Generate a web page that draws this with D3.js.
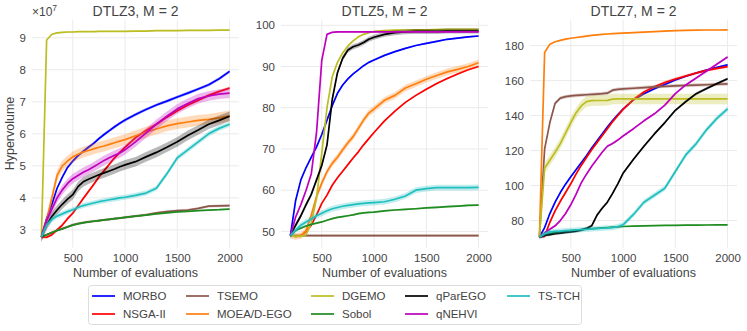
<!DOCTYPE html>
<html><head><meta charset="utf-8">
<script src="https://cdn.jsdelivr.net/npm/d3@7"></script>
<style>body{margin:0;background:#fff}svg{display:block}text{font-family:"Liberation Sans",Arial,sans-serif}</style>
</head><body><svg id="c" width="747" height="331"></svg>
<script>
const xs = [200,250,300,350,400,450,500,550,600,650,700,750,800,850,900,950,1000,1100,1200,1300,1400,1500,1600,1700,1800,1900,2000];
const seriesNames = ["MORBO","NSGA-II","TSEMO","MOEA/D-EGO","DGEMO","Sobol","qParEGO","qNEHVI","TS-TCH"];
const seriesColors = ["#0000ff","#ff0000","#8c564b","#ff7f0e","#bcbd22","#1f8c1f","#000000","#bf00bf","#1fbfbf"];
const xTicks = [500,1000,1500,2000];

// DTLZ3 (x 1e7)
const dtlz3_MORBO  = [2.78,3.35,3.8,4.3,4.65,4.95,5.15,5.32,5.45,5.58,5.7,5.85,5.98,6.1,6.22,6.33,6.43,6.6,6.76,6.9,7.02,7.15,7.27,7.4,7.53,7.72,7.95];
const dtlz3_NSGA   = [2.78,2.77,2.85,3.0,3.15,3.35,3.52,3.75,3.98,4.2,4.42,4.65,4.85,5.05,5.25,5.42,5.58,5.88,6.1,6.3,6.52,6.72,6.9,7.05,7.2,7.32,7.43];
const dtlz3_TSEMO  = [2.78,2.85,2.92,2.98,3.04,3.1,3.16,3.2,3.23,3.25,3.27,3.29,3.31,3.33,3.35,3.37,3.39,3.43,3.47,3.53,3.57,3.6,3.62,3.67,3.74,3.75,3.76];
const dtlz3_MOEAD  = [2.78,3.3,4.0,4.7,5.0,5.15,5.28,5.36,5.43,5.48,5.53,5.58,5.62,5.67,5.72,5.77,5.82,5.94,6.05,6.15,6.25,6.32,6.37,6.42,6.45,6.5,6.56];
const dtlz3_DGEMO  = [2.78,8.93,9.11,9.15,9.17,9.18,9.18,9.19,9.19,9.19,9.19,9.2,9.2,9.2,9.2,9.2,9.2,9.21,9.21,9.22,9.22,9.22,9.23,9.23,9.23,9.24,9.24];
const dtlz3_Sobol  = [2.78,2.85,2.92,2.98,3.03,3.09,3.15,3.19,3.22,3.25,3.27,3.29,3.31,3.33,3.35,3.37,3.39,3.43,3.46,3.5,3.53,3.56,3.58,3.6,3.62,3.63,3.65];
const dtlz3_qParEGO= [2.78,3.15,3.42,3.62,3.8,3.96,4.1,4.35,4.5,4.58,4.65,4.72,4.78,4.84,4.9,4.97,5.03,5.13,5.28,5.42,5.58,5.75,5.95,6.12,6.3,6.42,6.55];
const dtlz3_qNEHVI = [2.78,3.3,3.65,4.0,4.25,4.45,4.6,4.7,4.8,4.88,4.97,5.07,5.17,5.25,5.33,5.4,5.5,5.75,6.02,6.3,6.55,6.78,6.95,7.1,7.18,7.24,7.27];
const dtlz3_TSTCH  = [2.78,3.15,3.33,3.43,3.5,3.57,3.63,3.7,3.76,3.8,3.84,3.88,3.91,3.94,3.97,4.0,4.02,4.08,4.15,4.3,4.75,5.25,5.5,5.75,6.0,6.17,6.3];
const dtlz3_band   = [0.05,0.05,0.04,0.17,0.02,0.02,0.15,0.15,0.08];

// DTLZ5
const dtlz5_MORBO  = [49,57.5,62.5,65.5,68,70.5,73.5,77,80.5,83.5,85.5,87,88.2,89.2,90.2,91,91.6,92.7,93.6,94.4,95.1,95.6,96.1,96.6,96.9,97.2,97.4];
const dtlz5_NSGA   = [49,48.8,49,50,51.5,54,56.8,58.8,61.2,63,64.6,66.2,67.8,69.3,71,72.5,74,76.8,79.2,81.3,83,84.5,85.9,87.1,88.2,89.2,90.0];
const dtlz5_TSEMO  = [49,49,49,49,49,49,49,49,49,49,49,49,49,49,49,49,49,49,49,49,49,49,49,49,49,49,49];
const dtlz5_MOEAD  = [49,48.8,49,50.2,54,58.5,61.7,64.5,66.5,68,69.8,71.5,73,75,77,78.7,79.7,81.8,83,84.8,85.8,86.9,87.8,88.7,89.3,90.0,90.9];
const dtlz5_DGEMO  = [49,48.8,48.8,49.2,52,58,69,80,87.5,91,93.3,95,96.2,97.2,97.8,98.2,98.5,98.7,98.8,98.85,98.9,98.9,98.95,99,99,99,99];
const dtlz5_Sobol  = [49,50.2,50.8,51.3,51.7,52,52.3,52.7,53.1,53.4,53.6,53.8,54,54.3,54.5,54.6,54.7,55.0,55.2,55.35,55.5,55.7,55.85,56.0,56.15,56.3,56.4];
const dtlz5_qParEGO= [49,51.5,53.8,56.5,59,62.5,66,71,82,88.5,92,94,94.8,95.2,95.8,96.6,97.1,97.8,98.2,98.4,98.5,98.5,98.5,98.6,98.6,98.6,98.6];
const dtlz5_qNEHVI = [49,53.5,56.5,60,64,74,91.5,97.8,98.3,98.4,98.4,98.4,98.4,98.4,98.4,98.4,98.4,98.4,98.4,98.4,98.4,98.4,98.4,98.4,98.4,98.4,98.4];
const dtlz5_TSTCH  = [49,50.3,51.5,52.3,53,53.8,54.4,55,55.5,55.8,56.1,56.3,56.5,56.7,56.8,56.9,57.0,57.2,57.8,58.6,60.0,60.4,60.6,60.6,60.6,60.6,60.7];
const dtlz5_band   = [0.2,0.2,0.3,0.8,0.2,0.2,0.6,0.2,0.7];

// DTLZ7
const dtlz7_MORBO  = [70.5,76,84,90.5,96,100.8,105,109,113,117,121.5,125.5,129.5,133.5,137.2,140.5,143.7,149,152.5,155.3,157.8,160.3,162.5,164.3,166,167.5,169];
const dtlz7_NSGA   = [70.5,71,79,85.5,91,96,101,106.5,111.5,116,120.5,124.5,128.5,132.5,136.5,140,143.5,149.2,153.5,156.5,158.9,160.9,162.6,164.3,165.8,167,168];
const dtlz7_TSEMO  = [70.5,121,136,147,150,150.8,151.2,151.5,151.7,151.9,152.1,152.3,152.5,152.8,154.5,155,155.2,155.6,156,156.4,156.7,157,157.2,157.4,157.6,157.9,158.1];
const dtlz7_MOEAD  = [70.5,176,180.8,182.2,183,183.7,184.2,184.6,185.0,185.4,185.8,186.1,186.4,186.6,186.8,187,187.1,187.4,187.7,188,188.3,188.5,188.7,188.8,188.9,188.9,189.0];
const dtlz7_DGEMO  = [70.5,110,114.5,119,124,130,136,141.5,145.5,148,148.5,148.6,148.6,148.7,149.4,149.5,149.5,149.5,149.5,149.5,149.5,149.5,149.5,149.5,149.5,149.5,149.5];
const dtlz7_Sobol  = [70.5,71.8,72.6,73.2,73.6,74,74.3,74.6,74.9,75.1,75.4,75.6,75.8,76,76.2,76.4,76.6,76.8,77,77.1,77.2,77.3,77.35,77.4,77.45,77.5,77.5];
const dtlz7_qParEGO= [70.5,71.5,72,72.5,72.8,73.2,73.5,74,74.5,75.5,77,83,87,90.5,95.5,101,107,115,122.5,129.5,136,143,148,152.5,155.5,158.3,161];
const dtlz7_qNEHVI = [70.5,73,75,77,80,84,89,95,101.5,106.5,111,115,119,122.5,124,126,128.3,132.5,137,141,146,152.5,157.5,161.5,165.5,169.5,173.5];
const dtlz7_TSTCH  = [70.5,72.5,73.5,73.8,74,74.2,74.4,74.6,74.8,75,75.2,75.4,75.6,75.8,76,76.6,77.5,83.5,90.5,94.5,98.5,108,117.5,124,132,138.5,143.8];
const dtlz7_band   = [0.6,0.8,1.0,0.3,3.0,0.3,0.8,0.5,1.5];

const panels = [
  {title:"DTLZ3, M = 2", series:[dtlz3_MORBO,dtlz3_NSGA,dtlz3_TSEMO,dtlz3_MOEAD,dtlz3_DGEMO,dtlz3_Sobol,dtlz3_qParEGO,dtlz3_qNEHVI,dtlz3_TSTCH], band:dtlz3_band, yTicks:[3,4,5,6,7,8,9], yDom:[2.45,9.57], left:32},
  {title:"DTLZ5, M = 2", series:[dtlz5_MORBO,dtlz5_NSGA,dtlz5_TSEMO,dtlz5_MOEAD,dtlz5_DGEMO,dtlz5_Sobol,dtlz5_qParEGO,dtlz5_qNEHVI,dtlz5_TSTCH], band:dtlz5_band, yTicks:[50,60,70,80,90,100], yDom:[46.1,101.4], left:281},
  {title:"DTLZ7, M = 2", series:[dtlz7_MORBO,dtlz7_NSGA,dtlz7_TSEMO,dtlz7_MOEAD,dtlz7_DGEMO,dtlz7_Sobol,dtlz7_qParEGO,dtlz7_qNEHVI,dtlz7_TSTCH], band:dtlz7_band, yTicks:[80,100,120,140,160,180], yDom:[64.6,194.9], left:530}
];

const svg = d3.select("#c");
const plotTop = 19.5, plotBottom = 247.5, plotW = 207;
const txtCol = "#444";

panels.forEach((p, pi) => {
  const x = d3.scaleLinear().domain([110,2090]).range([p.left, p.left+plotW]);
  const y = d3.scaleLinear().domain(p.yDom).range([plotBottom, plotTop]);
  const g = svg.append("g");
  g.selectAll(".gx").data(xTicks).join("line")
    .attr("x1", d=>x(d)).attr("x2", d=>x(d)).attr("y1", plotTop).attr("y2", plotBottom)
    .attr("stroke", "#ebebeb").attr("stroke-width", 1);
  g.selectAll(".gy").data(p.yTicks).join("line")
    .attr("x1", p.left).attr("x2", p.left+plotW).attr("y1", d=>y(d)).attr("y2", d=>y(d))
    .attr("stroke", "#ebebeb").attr("stroke-width", 1);
  const xa = g.append("g").attr("transform", `translate(0,${plotBottom})`)
    .call(d3.axisBottom(x).tickValues(xTicks).tickSize(0).tickPadding(6).tickFormat(d3.format("d")));
  const ya = g.append("g").attr("transform", `translate(${p.left},0)`)
    .call(d3.axisLeft(y).tickValues(p.yTicks).tickSize(0).tickPadding(6).tickFormat(d3.format("d")));
  [xa, ya].forEach(a => {
    a.select(".domain").remove();
    a.selectAll("text").attr("fill", txtCol).style("font-size", "11.5px").style("font-family", '"Liberation Sans",Arial,sans-serif');
  });
  p.series.forEach((vals, si) => {
    const data = xs.map((xv, i) => ({x:xv, v:vals[i]}));
    const b = p.band[si];
    const area = d3.area().x(d=>x(d.x)).y0(d=>y(d.v-b)).y1(d=>y(d.v+b));
    g.append("path").datum(data).attr("d", area)
      .attr("fill", seriesColors[si]).attr("fill-opacity", 0.28).attr("stroke", "none");
    const line = d3.line().x(d=>x(d.x)).y(d=>y(d.v));
    g.append("path").datum(data).attr("d", line)
      .attr("fill", "none").attr("stroke", seriesColors[si]).attr("stroke-width", 1.7)
      .attr("stroke-linejoin", "round");
  });
  g.append("text").attr("x", p.left + plotW/2).attr("y", 16).attr("text-anchor", "middle")
    .attr("fill", txtCol).style("font-size", "14px").text(p.title);
  g.append("text").attr("x", p.left + plotW/2).attr("y", 277).attr("text-anchor", "middle")
    .attr("fill", txtCol).style("font-size", "12.5px").text("Number of evaluations");
});

svg.append("text").attr("transform", `translate(14,${(plotTop+plotBottom)/2}) rotate(-90)`)
  .attr("text-anchor", "middle").attr("fill", txtCol).style("font-size", "12.5px").text("Hypervolume");
const mt = svg.append("text").attr("x", 32).attr("y", 16).attr("fill", txtCol).style("font-size", "12px");
mt.append("tspan").text("×10");
mt.append("tspan").attr("dy", -5).style("font-size", "8.5px").text("7");

const lg = svg.append("g");
lg.append("rect").attr("x", 88.5).attr("y", 285.5).attr("width", 493).attr("height", 39)
  .attr("rx", 3).attr("fill", "#fff").attr("stroke", "#dcdcdc");
const colX = [92, 186, 311, 405, 507];
const rowY = [296, 314];
seriesNames.forEach((n, i) => {
  const cx = colX[Math.floor(i/2)], cy = rowY[i%2];
  lg.append("line").attr("x1", cx).attr("x2", cx+23).attr("y1", cy).attr("y2", cy)
    .attr("stroke", seriesColors[i]).attr("stroke-width", 1.7);
  lg.append("text").attr("x", cx+31).attr("y", cy+4).attr("fill", txtCol)
    .style("font-size", "11.5px").text(n);
});
</script></body></html>
